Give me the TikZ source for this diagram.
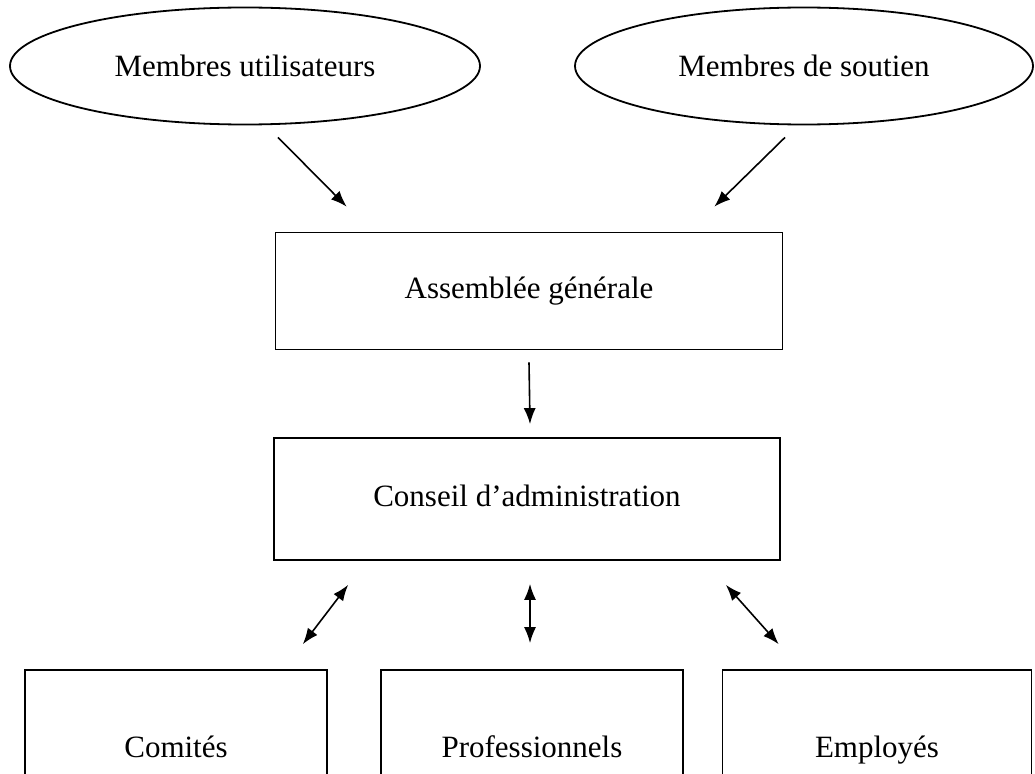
\documentclass[tikz,border=0pt]{standalone}
\usepackage{fontspec}
\setmainfont{Liberation Serif}
\usepackage{tikz}
\usetikzlibrary{
  arrows.meta,
  calc,
  positioning,
  shapes.geometric}

\tikzset{
  membre/.style={draw,ellipse,line width=1.8pt,inner sep=0pt},
  organe/.style={draw,rectangle,line width=1.7pt,inner sep=0pt,
    text height=21pt,text depth=7pt},
  lien/.style={line width=1.6pt},
}

\begin{document}
\begin{tikzpicture}[x=1pt,y=-1pt,>={Latex[length=16pt,width=12pt]},
  font=\fontsize{31}{37}\selectfont]
            \clip (0,0) rectangle (1035,773);

            \node[membre,minimum width=470,minimum height=117] (mu) at (245,66) {Membres utilisateurs};
            \node[membre,minimum width=458,minimum height=117] (ms) at (804,66) {Membres de soutien};

            \node[organe,minimum width=507,minimum height=117] (ag) at (529,291) {Assemblée générale};
            \node[organe,minimum width=506,minimum height=122] (ca) at (527,499) {Conseil d’administration};

            \node[organe,minimum width=302,minimum height=160] (com) at (176,750) {Comités};
            \node[organe,minimum width=302,minimum height=160] (pro) at (532,750) {Professionnels};
            \node[organe,minimum width=309,minimum height=160] (emp) at (877,750) {Employés};

            \draw[->,lien] ([shift={(33,12)}]mu.south) -- ([shift={(72,-25)}]ag.north west);
            \draw[->,lien] ([shift={(-19,12)}]ms.south) -- ([shift={(-69,-25)}]ag.north east);
            \draw[->,lien] ([shift={(0,12)}]ag.south) -- ([shift={(3,-13)}]ca.north);

            \draw[<->,lien] ([shift={(75,24)}]ca.south west) -- ([shift={(-25,-25)}]com.north east);
            \draw[<->,lien] ([shift={(3,23)}]ca.south) -- ([shift={(-2,-26)}]pro.north);
            \draw[<->,lien] ([shift={(-55,24)}]ca.south east) -- ([shift={(57,-25)}]emp.north west);
        \end{tikzpicture}
\end{document}
